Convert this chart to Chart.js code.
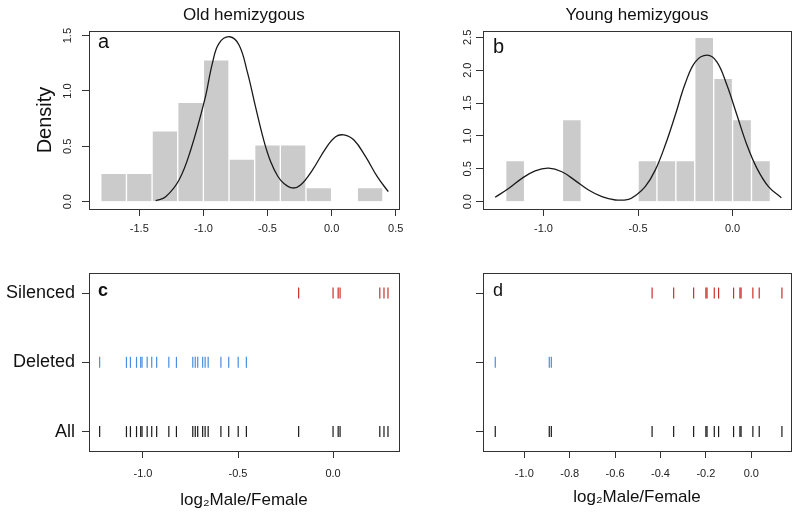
<!DOCTYPE html>
<html>
<head>
<meta charset="utf-8">
<script src="https://cdn.jsdelivr.net/npm/chart.js@4.4.1/dist/chart.umd.min.js"></script>
<style>
  body { margin: 0; background: #fff; }
  #wrap { position: relative; width: 799px; height: 516px; overflow: hidden; }
  canvas { position: absolute; }
</style>
</head>
<body>
<div id="wrap">
  <canvas id="histOld" width="410" height="250" style="left:0;top:0"></canvas>
  <canvas id="histYoung" width="399" height="250" style="left:400px;top:0"></canvas>
  <canvas id="stripOld" width="410" height="261" style="left:0;top:255px"></canvas>
  <canvas id="stripYoung" width="399" height="261" style="left:400px;top:255px"></canvas>
</div>
<script>
// panel a: old hemizygous, histogram (bin width 0.2) + fitted density
const oldBinMids = [-1.7, -1.5, -1.3, -1.1, -0.9, -0.7, -0.5, -0.3, -0.1, 0.1, 0.3];
const oldDensity = [0.256, 0.256, 0.641, 0.897, 1.282, 0.385, 0.513, 0.513, 0.128, 0, 0.128];
const oldCurveX = [-1.372, -1.294, -1.19, -1.099, -0.99, -0.93, -0.878, -0.795, -0.722, -0.657,
  -0.592, -0.528, -0.475, -0.42, -0.372, -0.306, -0.242, -0.15, -0.047, 0.031, 0.096, 0.174,
  0.265, 0.356, 0.442];
const oldCurveY = [0.009, 0.045, 0.196, 0.467, 0.919, 1.25, 1.43, 1.49, 1.415, 1.17,
  0.85, 0.55, 0.36, 0.23, 0.165, 0.124, 0.151, 0.286, 0.48, 0.587, 0.603, 0.557,
  0.407, 0.226, 0.09];

// panel b: young hemizygous, histogram (bin width 0.1) + fitted density
const youngBinMids = [-1.15, -1.05, -0.95, -0.85, -0.75, -0.65, -0.55, -0.45, -0.35, -0.25,
  -0.15, -0.05, 0.05, 0.15];
const youngDensity = [0.625, 0, 0, 1.25, 0, 0, 0, 0.625, 0.625, 0.625, 2.5, 1.875, 1.25, 0.625];
const youngCurveX = [-1.256, -1.185, -1.114, -1.044, -0.973, -0.903, -0.832, -0.762, -0.691,
  -0.62, -0.55, -0.515, -0.462, -0.409, -0.356, -0.303, -0.25, -0.197, -0.135, -0.083, -0.03,
  0.023, 0.076, 0.129, 0.19, 0.258];
const youngCurveY = [0.067, 0.2, 0.355, 0.47, 0.51, 0.456, 0.32, 0.178, 0.076,
  0.026, 0.036, 0.09, 0.228, 0.48, 0.862, 1.318, 1.8, 2.128, 2.23, 2.128, 1.774,
  1.318, 0.862, 0.507, 0.228, 0.061];

// panels c / d: individual genes, log2 male/female
const oldDeleted = [-1.228, -1.087, -1.066, -1.034, -1.012, -1.005, -0.978, -0.954, -0.928,
  -0.864, -0.824, -0.738, -0.725, -0.712, -0.686, -0.673, -0.657, -0.59, -0.549, -0.499, -0.456];
const oldSilenced = [-0.181, 0.0, 0.027, 0.037, 0.246, 0.268, 0.289];
const youngDeleted = [-1.128, -0.89, -0.881];
const youngSilenced = [-0.437, -0.342, -0.254, -0.2, -0.195, -0.163, -0.144, -0.078, -0.05,
  -0.045, 0.007, 0.035, 0.135];

const rowLabels = ["All", "Deleted", "Silenced"]; // y = 1, 2, 3

const oldHistXTicks = [-1.5, -1.0, -0.5, 0.0, 0.5];
const oldHistYTicks = [0, 0.5, 1.0, 1.5];
const youngHistXTicks = [-1.0, -0.5, 0.0];
const youngHistYTicks = [0, 0.5, 1.0, 1.5, 2.0, 2.5];
const oldStripXTicks = [-1.0, -0.5, 0.0];
const youngStripXTicks = [-1.0, -0.8, -0.6, -0.4, -0.2, 0.0];

Chart.defaults.font.family = "'Liberation Sans', Arial, sans-serif";
Chart.defaults.color = "#222";
Chart.defaults.animation = false;

const RED = "#c8302c";
const BLUE = "#4a8edb";
const BLACK = "#1a1a1a";

// box round the plot region, like R's box()
const frame = {
  id: "frame",
  afterDraw(chart) {
    const { ctx, chartArea: { left, top, right, bottom } } = chart;
    ctx.save();
    ctx.strokeStyle = "#333";
    ctx.lineWidth = 1;
    ctx.strokeRect(Math.round(left) + 0.5, Math.round(top) + 0.5,
      Math.round(right - left), Math.round(bottom - top));
    ctx.restore();
  },
};

const panelLetter = {
  id: "panelLetter",
  afterDraw(chart, args, opt) {
    const { ctx, chartArea } = chart;
    ctx.save();
    ctx.font = opt.font;
    ctx.fillStyle = "#111";
    ctx.textBaseline = "alphabetic";
    ctx.fillText(opt.text, chartArea.left + opt.dx, chartArea.top + opt.dy);
    ctx.restore();
  },
};

function fixedTicks(values) {
  return (scale) => {
    scale.ticks = values.map((v) => ({ value: v }));
  };
}

function xAxis(min, max, ticks, height, labelPad, title) {
  return {
    type: "linear",
    min: min,
    max: max,
    offset: false,
    afterBuildTicks: fixedTicks(ticks),
    afterFit: (s) => { s.height = height; },
    border: { display: false },
    grid: { offset: false, drawOnChartArea: false, tickLength: 7, tickColor: "#333" },
    ticks: {
      autoSkip: false,
      maxRotation: 0,
      padding: labelPad,
      font: { size: 11 },
      callback: (v) => v.toFixed(1),
    },
    title: title || { display: false },
  };
}

function histChart(id, cfg) {
  return new Chart(document.getElementById(id), {
    type: "bar",
    data: {
      datasets: [
        {
          type: "line",
          data: cfg.curveX.map((x, i) => ({ x: x, y: cfg.curveY[i] })),
          borderColor: BLACK,
          borderWidth: 1.3,
          pointRadius: 0,
          tension: 0.4,
          order: 1,
        },
        {
          type: "bar",
          data: cfg.mids.map((x, i) => ({ x: x, y: cfg.density[i] })),
          backgroundColor: "#cbcbcb",
          borderColor: "#ffffff",
          borderWidth: 1,
          categoryPercentage: 1,
          barPercentage: 1,
          order: 2,
        },
      ],
    },
    options: {
      responsive: false,
      layout: { padding: { right: cfg.padRight } },
      scales: {
        x: xAxis(cfg.xMin, cfg.xMax, cfg.xTicks, 41, 6.5),
        y: {
          type: "linear",
          min: cfg.yMin,
          max: cfg.yMax,
          afterBuildTicks: fixedTicks(cfg.yTicks),
          afterFit: (s) => { s.width = cfg.yWidth; },
          border: { display: false },
          grid: { drawOnChartArea: false, tickLength: 7, tickColor: "#333" },
          ticks: {
            minRotation: 90,
            maxRotation: 90,
            crossAlign: "center",
            padding: cfg.yPad,
            font: { size: 11 },
            callback: (v) => v.toFixed(1),
          },
          title: cfg.yTitle || { display: false },
        },
      },
      plugins: {
        legend: { display: false },
        tooltip: { enabled: false },
        title: {
          display: true,
          text: cfg.title,
          fullSize: false,
          color: "#111",
          font: { size: 17, weight: "normal" },
          padding: { top: 4.8, bottom: 5.8 },
        },
        panelLetter: cfg.letter,
      },
    },
    plugins: [frame, panelLetter],
  });
}

function stripChart(id, cfg) {
  const tick = (color) => ({
    borderColor: color,
    backgroundColor: color,
    pointStyle: "line",
    rotation: 90,
    radius: 5.5,
    hoverRadius: 5.5,
    borderWidth: 1.2,
  });
  return new Chart(document.getElementById(id), {
    type: "scatter",
    data: {
      datasets: [
        { data: cfg.deleted.concat(cfg.silenced).map((x) => ({ x: x, y: 1 })), ...tick(BLACK) },
        { data: cfg.deleted.map((x) => ({ x: x, y: 2 })), ...tick(BLUE) },
        { data: cfg.silenced.map((x) => ({ x: x, y: 3 })), ...tick(RED) },
      ],
    },
    options: {
      responsive: false,
      layout: { padding: { top: 18, right: cfg.padRight } },
      scales: {
        x: xAxis(cfg.xMin, cfg.xMax, cfg.xTicks, 65, 9, {
          display: true,
          text: "log\u2082Male/Female",
          color: "#111",
          font: { size: 17 },
          padding: { top: 0, bottom: cfg.titlePad },
        }),
        y: {
          type: "linear",
          min: 0.72,
          max: 3.29,
          afterBuildTicks: fixedTicks([1, 2, 3]),
          afterFit: (s) => { s.width = cfg.yWidth; },
          border: { display: false },
          grid: { drawOnChartArea: false, tickLength: 7, tickColor: "#333" },
          ticks: {
            padding: 7,
            color: "#111",
            font: { size: 18 },
            callback: (v) => (cfg.showRows ? rowLabels[v - 1] : ""),
          },
        },
      },
      plugins: {
        legend: { display: false },
        tooltip: { enabled: false },
        panelLetter: cfg.letter,
      },
    },
    plugins: [frame, panelLetter],
  });
}

histChart("histOld", {
  mids: oldBinMids, density: oldDensity, curveX: oldCurveX, curveY: oldCurveY,
  xMin: -1.892, xMax: 0.523, yMin: -0.066, yMax: 1.542,
  xTicks: oldHistXTicks, yTicks: oldHistYTicks,
  yWidth: 89, yPad: 6, padRight: 11,
  title: "Old hemizygous",
  yTitle: { display: true, text: "Density", color: "#111", font: { size: 20 }, padding: { top: 33, bottom: 0 } },
  letter: { text: "a", font: "20px 'Liberation Sans', Arial", dx: 9, dy: 17 },
});

histChart("histYoung", {
  mids: youngBinMids, density: youngDensity, curveX: youngCurveX, curveY: youngCurveY,
  xMin: -1.32, xMax: 0.309, yMin: -0.111, yMax: 2.596,
  xTicks: youngHistXTicks, yTicks: youngHistYTicks,
  yWidth: 83, yPad: 0.5, padRight: 8,
  title: "Young hemizygous",
  letter: { text: "b", font: "20px 'Liberation Sans', Arial", dx: 10, dy: 22 },
});

stripChart("stripOld", {
  deleted: oldDeleted, silenced: oldSilenced,
  xMin: -1.284, xMax: 0.347, xTicks: oldStripXTicks,
  yWidth: 89, padRight: 11, titlePad: 5.8, showRows: true,
  letter: { text: "c", font: "bold 18px 'Liberation Sans', Arial", dx: 9, dy: 23 },
});

stripChart("stripYoung", {
  deleted: youngDeleted, silenced: youngSilenced,
  xMin: -1.182, xMax: 0.175, xTicks: youngStripXTicks,
  yWidth: 83, padRight: 8, titlePad: 8.8, showRows: false,
  letter: { text: "d", font: "18px 'Liberation Sans', Arial", dx: 10, dy: 23 },
});
</script>
</body>
</html>
